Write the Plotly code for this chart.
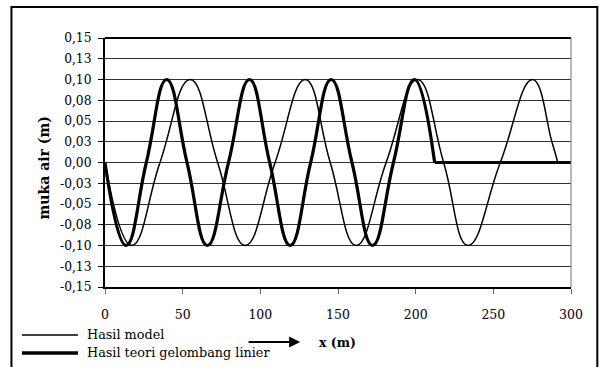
import plotly.graph_objects as go

# ---- data ----
model_x = [0, 17.2, 35.4, 54.8, 72.5, 90.2, 109.5, 128.9, 145.0, 161.7, 181.0, 201.2, 218.0, 233.7, 254.5, 275.3, 287.7, 291.5]
model_y = [0, -0.10, 0, 0.10, 0, -0.10, 0, 0.10, 0, -0.10, 0, 0.10, 0, -0.10, 0, 0.10, 0.025, 0]
model_flat_x = [291.5, 300]
model_flat_y = [0, 0]

theory_x = [0, 13.5, 26.6, 39.7, 52.8, 65.9, 79.5, 93.0, 106.0, 119.2, 132.4, 145.6, 159.0, 172.2, 185.7, 199.2, 212.2]
theory_y = [0, -0.10, 0, 0.10, 0, -0.10, 0, 0.10, 0, -0.10, 0, 0.10, 0, -0.10, 0, 0.10, 0]
theory_flat_x = [212.2, 300]
theory_flat_y = [0, 0]

y_tickvals = [0.15, 0.125, 0.10, 0.075, 0.05, 0.025, 0, -0.025, -0.05, -0.075, -0.10, -0.125, -0.15]
y_ticktext = ["0,15", "0,13", "0,10", "0,08", "0,05", "0,03", "0,00",
              "-0,03", "-0,05", "-0,08", "-0,10", "-0,13", "-0,15"]
x_tickvals = [0, 50, 100, 150, 200, 250, 300]

legend_names = ["Hasil model", "Hasil teori gelombang linier"]

FONT = "DejaVu Serif"

fig = go.Figure()
fig.add_trace(go.Scatter(x=model_x, y=model_y, mode="lines", name=legend_names[0],
                         line=dict(color="black", width=1.5, shape="spline", smoothing=1.3),
                         legendgroup="m", showlegend=False))
fig.add_trace(go.Scatter(x=model_flat_x, y=model_flat_y, mode="lines", name=legend_names[0],
                         line=dict(color="black", width=1.5),
                         legendgroup="m", showlegend=False))
fig.add_trace(go.Scatter(x=theory_x, y=theory_y, mode="lines", name=legend_names[1],
                         line=dict(color="black", width=3.2, shape="spline", smoothing=1.3),
                         legendgroup="t", showlegend=False))
fig.add_trace(go.Scatter(x=theory_flat_x, y=theory_flat_y, mode="lines", name=legend_names[1],
                         line=dict(color="black", width=3.2),
                         legendgroup="t", showlegend=False))

W, H = 602, 367
L, R, T, B = 105, 570.7, 38, 287
pw, ph = R - L, B - T

def px(xp):
    return (xp - L) / pw

def py(yp):
    return (B - yp) / ph

shapes = [
    dict(type="rect", xref="paper", yref="paper", x0=px(11.5), x1=px(597), y0=py(390), y1=py(7),
         line=dict(color="black", width=2)),
    dict(type="line", xref="paper", yref="paper", x0=0, x1=1, y0=1, y1=1,
         line=dict(color="black", width=2)),
    dict(type="line", xref="paper", yref="paper", x0=1, x1=1, y0=0, y1=1,
         line=dict(color="#777777", width=1)),
    dict(type="line", xref="paper", yref="paper", x0=px(22), x1=px(78), y0=py(335), y1=py(335),
         line=dict(color="black", width=1.4)),
    dict(type="line", xref="paper", yref="paper", x0=px(22), x1=px(78), y0=py(353), y1=py(353),
         line=dict(color="black", width=3.5)),
]

annotations = [
    dict(text=legend_names[0], xref="paper", yref="paper", x=px(85), y=py(334),
         xanchor="left", yanchor="middle", showarrow=False,
         font=dict(family=FONT, size=12.8, color="black")),
    dict(text=legend_names[1], xref="paper", yref="paper", x=px(85), y=py(352),
         xanchor="left", yanchor="middle", showarrow=False,
         font=dict(family=FONT, size=12.8, color="black")),
    dict(text="", xref="paper", yref="paper", x=px(300), y=py(342), ax=-53, ay=0,
         showarrow=True, arrowhead=2, arrowsize=1, arrowwidth=2.2, arrowcolor="black"),
    dict(text="<b>x (m)</b>", xref="paper", yref="paper", x=px(337), y=py(342),
         xanchor="center", yanchor="middle", showarrow=False,
         font=dict(family=FONT, size=12.5, color="black")),
    dict(text="<b>muka air (m)</b>", xref="paper", yref="paper", x=px(44.5), y=py(168),
         xanchor="center", yanchor="middle", showarrow=False, textangle=-90,
         font=dict(family=FONT, size=14, color="black")),
]

fig.update_layout(
    width=W, height=H,
    margin=dict(l=L, r=W - R, t=T, b=H - B),
    paper_bgcolor="white", plot_bgcolor="white",
    showlegend=False,
    font=dict(family=FONT, size=12, color="black"),
    shapes=shapes, annotations=annotations,
    xaxis=dict(range=[0, 300], tickvals=x_tickvals, ticks="outside", ticklen=5,
               tickcolor="#666666", showgrid=False, zeroline=False,
               showline=True, linecolor="black", linewidth=2,
               ticklabelstandoff=10,
               tickfont=dict(family=FONT, size=12.5, color="black")),
    yaxis=dict(range=[-0.15, 0.15], tickvals=y_tickvals, ticktext=y_ticktext,
               ticks="outside", ticklen=5, tickcolor="black",
               showgrid=True, gridcolor="#333333", gridwidth=1, zeroline=False,
               showline=True, linecolor="black", linewidth=2,
               ticklabelstandoff=4,
               tickfont=dict(family=FONT, size=12.3, color="black")),
)

fig.write_html("out.html", config={"displayModeBar": False},
               post_script="document.body.style.margin='0';")
